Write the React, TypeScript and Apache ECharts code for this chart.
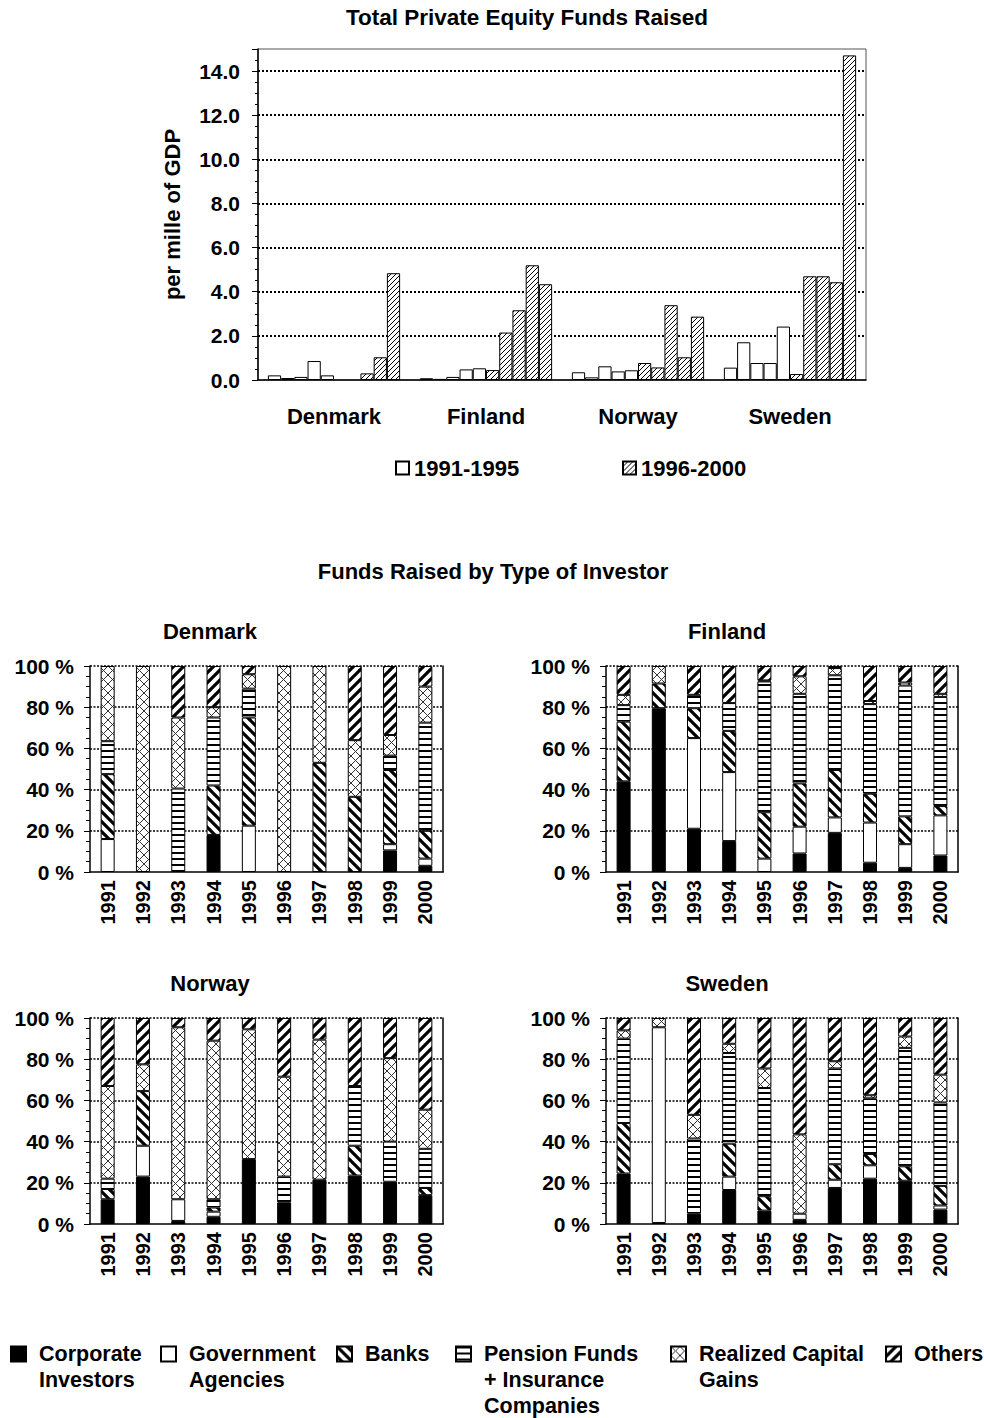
import React, { useEffect, useRef } from 'react';
import * as echarts from 'echarts';

const FONT = '"Liberation Sans", Arial, Helvetica, sans-serif';

const COUNTRIES = ['Denmark', 'Finland', 'Norway', 'Sweden'];
const YEARS = ['1991', '1992', '1993', '1994', '1995', '1996', '1997', '1998', '1999', '2000'];
const PERIOD_EARLY = '1991-1995';
const PERIOD_LATE = '1996-2000';

// Total private equity funds raised, per mille of GDP, 1991..2000
const DENMARK_TOTAL = [0.21, 0.09, 0.14, 0.86, 0.21, 0, 0, 0.3, 1.03, 4.84];
const FINLAND_TOTAL = [0.08, 0.05, 0.14, 0.48, 0.53, 0.45, 2.15, 3.16, 5.2, 4.34];
const NORWAY_TOTAL = [0.35, 0.12, 0.62, 0.39, 0.44, 0.77, 0.57, 3.39, 1.03, 2.87];
const SWEDEN_TOTAL = [0.56, 1.71, 0.77, 0.77, 2.42, 0.27, 4.7, 4.7, 4.43, 14.71];

const INVESTORS = [
  'Corporate Investors',
  'Government Agencies',
  'Banks',
  'Pension Funds + Insurance Companies',
  'Realized Capital Gains',
  'Others',
];
const INVESTOR_LABELS = [
  'Corporate\nInvestors',
  'Government\nAgencies',
  'Banks',
  'Pension Funds\n+ Insurance\nCompanies',
  'Realized Capital\nGains',
  'Others',
];

// Shares (%) by investor type; rows follow INVESTORS, columns follow YEARS
const DENMARK_SHARES = [
  [0, 0, 0, 18, 0, 0, 0, 0, 10.5, 3],
  [16, 0, 0, 0, 22.5, 0, 0, 0, 3, 3.5],
  [31.5, 0, 0, 24, 52.5, 0, 53, 36.5, 36, 13.5],
  [16, 0, 40.5, 33, 14, 0, 0, 0, 7, 52.5],
  [36.5, 100, 34.5, 5, 7, 100, 47, 27.5, 10, 17.5],
  [0, 0, 25, 20, 4, 0, 0, 36, 33.5, 10],
];
const FINLAND_SHARES = [
  [44, 79.5, 21, 15, 0, 9, 19, 4.5, 2, 8],
  [0, 0, 44, 33.5, 6.5, 13, 7.5, 19.5, 11.5, 19.5],
  [29, 12, 14.5, 20, 22.5, 21, 23, 14, 13.5, 4.5],
  [8, 0, 6.5, 13.5, 63.5, 43.5, 46, 43.5, 63.5, 53],
  [5, 8.5, 0, 0, 0.5, 8.5, 3.5, 1.5, 1.5, 1.5],
  [14, 0, 14, 18, 7, 5, 1, 17, 8, 13.5],
];
const NORWAY_SHARES = [
  [12, 23, 1.5, 3.5, 31.5, 10.5, 21.5, 23.5, 20.5, 14],
  [0, 15, 10.5, 2.5, 0, 0, 0, 0, 0, 0],
  [5, 26.5, 0, 2, 0, 0, 0, 14.5, 0, 3.5],
  [5, 0, 0, 4, 0, 12.5, 0, 29, 19.5, 19],
  [45, 13, 83.5, 77, 63, 48.5, 68, 0, 40.5, 19],
  [33, 22.5, 4.5, 11, 5.5, 28.5, 10.5, 33, 19.5, 44.5],
];
const SWEDEN_SHARES = [
  [24.5, 0.5, 5, 16.5, 6.5, 2, 17.5, 22, 21, 7],
  [0, 95, 0, 6.5, 0, 3, 4, 6.5, 0, 2],
  [24.5, 0, 0, 16, 7, 0, 7.5, 5.5, 7, 9.5],
  [41, 0, 36.5, 44, 52.5, 0, 46.5, 27, 57.5, 40.5],
  [4, 4.5, 11.5, 4.5, 9.5, 38.5, 3.5, 1.5, 5.5, 13.5],
  [6, 0, 47, 12.5, 24.5, 56.5, 21, 37.5, 9, 27.5],
];

const TOTALS = [DENMARK_TOTAL, FINLAND_TOTAL, NORWAY_TOTAL, SWEDEN_TOTAL];
const SHARES = [DENMARK_SHARES, FINLAND_SHARES, NORWAY_SHARES, SWEDEN_SHARES];

function makePattern(w: number, h: number, draw: (ctx: CanvasRenderingContext2D) => void) {
  const c = document.createElement('canvas');
  c.width = w;
  c.height = h;
  const ctx = c.getContext('2d') as CanvasRenderingContext2D;
  ctx.fillStyle = '#fff';
  ctx.fillRect(0, 0, w, h);
  draw(ctx);
  return { image: c, repeat: 'repeat', imageWidth: w, imageHeight: h } as any;
}

function diagonal(ctx: CanvasRenderingContext2D, s: number, dir: number, lw: number, color: string) {
  ctx.strokeStyle = color;
  ctx.lineWidth = lw;
  ctx.beginPath();
  for (let k = -1; k <= 1; k++) {
    if (dir > 0) {
      ctx.moveTo(k * s - 1, s + 1);
      ctx.lineTo(k * s + s + 1, -1);
    } else {
      ctx.moveTo(k * s - 1, -1);
      ctx.lineTo(k * s + s + 1, s + 1);
    }
  }
  ctx.stroke();
}

function txt(size: number) {
  return { fontFamily: FONT, fontWeight: 'bold' as const, fontSize: size, color: '#000' };
}

function buildOption() {
  const hatch = makePattern(5, 5, (ctx) => diagonal(ctx, 5, 1, 1, '#000'));
  const banks = makePattern(10, 10, (ctx) => diagonal(ctx, 10, -1, 3.2, '#000'));
  const others = makePattern(10, 10, (ctx) => diagonal(ctx, 10, 1, 3.2, '#000'));
  const pension = makePattern(4, 6, (ctx) => {
    ctx.fillStyle = '#000';
    ctx.fillRect(0, 0, 4, 2);
  });
  const realized = makePattern(9, 9, (ctx) => {
    diagonal(ctx, 9, 1, 1, '#333');
    diagonal(ctx, 9, -1, 1, '#333');
  });
  const investorFills = ['#000', '#fff', banks, pension, realized, others];

  const smallGrids = [
    { left: 90, top: 666, width: 353, height: 206 },
    { left: 606, top: 666, width: 352, height: 206 },
    { left: 90, top: 1018, width: 353, height: 206 },
    { left: 606, top: 1018, width: 352, height: 206 },
  ];
  const titleCenters = [
    [210, 620],
    [727, 620],
    [210, 972],
    [727, 972],
  ];
  const legendLeft = [10, 160, 336, 455, 670, 885];

  const blackLine = { color: '#000', width: 1.5 };

  const title: any[] = [
    { text: 'Total Private Equity Funds Raised', left: 527, top: 6, textAlign: 'center', padding: 0, textStyle: txt(22.5) },
    { text: 'Funds Raised by Type of Investor', left: 493, top: 560, textAlign: 'center', padding: 0, textStyle: txt(22) },
    ...COUNTRIES.map((c, i) => ({
      text: c,
      left: titleCenters[i][0],
      top: titleCenters[i][1],
      textAlign: 'center',
      padding: 0,
      textStyle: txt(22),
    })),
  ];

  const grid: any[] = [
    { left: 258, top: 49, width: 608, height: 331, show: true, borderColor: '#555', borderWidth: 1 },
    ...smallGrids,
  ];

  const xAxis: any[] = [
    {
      type: 'category',
      gridIndex: 0,
      data: COUNTRIES,
      axisLine: { lineStyle: blackLine },
      axisTick: { length: 8, lineStyle: { color: '#000' } },
      axisLabel: { ...txt(22), margin: 25 },
    },
    ...smallGrids.map((_, i) => ({
      type: 'category',
      gridIndex: i + 1,
      data: YEARS,
      axisLine: { lineStyle: blackLine },
      axisTick: { length: 6, lineStyle: { color: '#000' } },
      axisLabel: { ...txt(20), rotate: 90, margin: 8 },
    })),
  ];

  const yAxis: any[] = [
    {
      type: 'value',
      gridIndex: 0,
      min: 0,
      max: 15,
      interval: 2,
      name: 'per mille of GDP',
      nameLocation: 'middle',
      nameGap: 75,
      nameRotate: 90,
      nameTextStyle: txt(22),
      axisLine: { show: true, lineStyle: blackLine },
      axisTick: { show: true, length: 6, lineStyle: { color: '#000' } },
      minorTick: { show: true, splitNumber: 4, length: 3, lineStyle: { color: '#000' } },
      axisLabel: { ...txt(21), margin: 18, showMaxLabel: false, formatter: (v: number) => v.toFixed(1) },
      splitLine: { show: true, showMinLine: false, showMaxLine: false, lineStyle: { color: '#000', type: [2, 2], width: 2 } },
    },
    ...smallGrids.map((_, i) => ({
      type: 'value',
      gridIndex: i + 1,
      min: 0,
      max: 100,
      interval: 20,
      axisLine: { show: true, lineStyle: blackLine },
      axisTick: { show: true, length: 6, lineStyle: { color: '#000' } },
      minorTick: { show: true, splitNumber: 4, length: 4, lineStyle: { color: '#000' } },
      axisLabel: { ...txt(21), margin: 16, formatter: (v: number) => v + ' %' },
      splitLine: { show: true, showMinLine: false, lineStyle: { color: '#000', type: [2, 1.5], width: 1.5 } },
    })),
    ...smallGrids.map((_, i) => ({
      type: 'value',
      gridIndex: i + 1,
      position: 'right',
      min: 0,
      max: 100,
      axisLine: { show: true, lineStyle: blackLine },
      axisTick: { show: false },
      axisLabel: { show: false },
      splitLine: { show: false },
    })),
  ];

  const series: any[] = [];
  YEARS.forEach((_, y) => {
    series.push({
      type: 'bar',
      name: y < 5 ? PERIOD_EARLY : PERIOD_LATE,
      xAxisIndex: 0,
      yAxisIndex: 0,
      barGap: '0%',
      barCategoryGap: '13%',
      data: TOTALS.map((t) => (t[y] === 0 ? '-' : t[y])),
      itemStyle: { color: y < 5 ? '#fff' : hatch, borderColor: '#000', borderWidth: 1 },
    });
  });
  SHARES.forEach((shares, c) => {
    shares.forEach((row, t) => {
      series.push({
        type: 'bar',
        name: INVESTORS[t],
        stack: 'country' + c,
        xAxisIndex: c + 1,
        yAxisIndex: c + 1,
        barWidth: 14,
        data: row.map((v) => (v === 0 ? '-' : v)),
        itemStyle: { color: investorFills[t], borderColor: '#000', borderWidth: 1 },
      });
    });
  });

  const legend: any[] = [
    {
      data: [PERIOD_EARLY],
      left: 395,
      top: 457,
      padding: 0,
      icon: 'rect',
      itemWidth: 13,
      itemHeight: 13,
      selectedMode: false,
      textStyle: { ...txt(22) },
    },
    {
      data: [PERIOD_LATE],
      left: 622,
      top: 457,
      padding: 0,
      icon: 'rect',
      itemWidth: 13,
      itemHeight: 13,
      selectedMode: false,
      textStyle: { ...txt(22) },
    },
    ...INVESTORS.map((name, i) => {
      const lines = INVESTOR_LABELS[i].split('\n');
      const n = lines.length;
      // blank lines before the label so that its first line sits level with the icon
      const shown = new Array(n - 1).fill(' ').concat(lines).join('\n');
      return {
        data: [name],
        left: legendLeft[i],
        top: 1354 - (2 * n - 1) * 13,
        padding: 0,
        icon: 'rect',
        itemWidth: 15,
        itemHeight: 15,
        itemGap: 0,
        selectedMode: false,
        formatter: () => shown,
        textStyle: { ...txt(21.5), lineHeight: 26, padding: [0, 0, 0, 8] },
      };
    }),
  ];

  return {
    animation: false,
    backgroundColor: '#fff',
    textStyle: { fontFamily: FONT },
    title,
    grid,
    xAxis,
    yAxis,
    legend,
    series,
  };
}

export default function App() {
  const ref = useRef<HTMLDivElement>(null);
  useEffect(() => {
    const chart = echarts.init(ref.current as HTMLDivElement, null, { renderer: 'svg' });
    chart.setOption(buildOption() as any);
    return () => chart.dispose();
  }, []);
  return (
    <div
      ref={ref}
      style={{ position: 'absolute', left: 0, top: 0, width: 984, height: 1418, background: '#fff' }}
    />
  );
}
